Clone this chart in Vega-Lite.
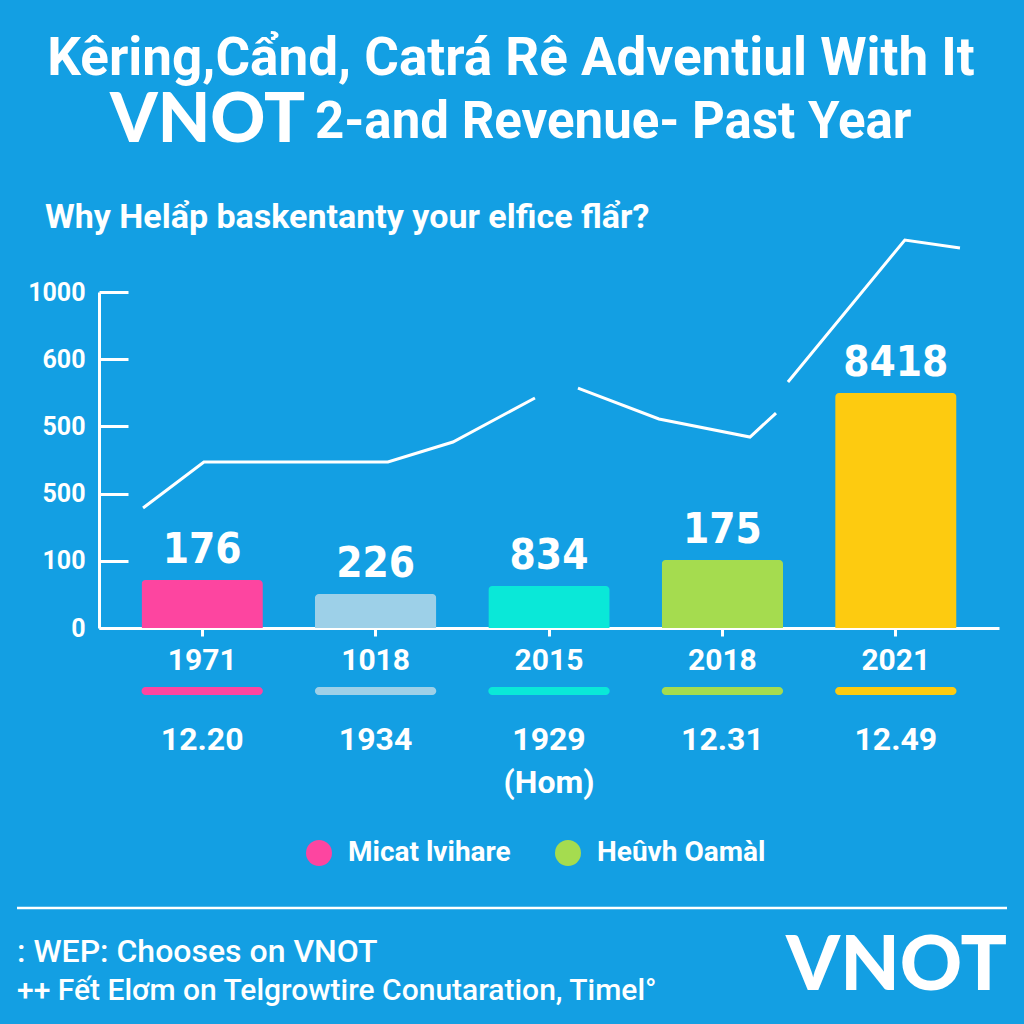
{
  "$schema": "https://vega.github.io/schema/vega-lite/v6.json",
  "width": 900,
  "height": 336,
  "autosize": {"type": "none"},
  "padding": {"left": 99, "top": 292, "right": 25, "bottom": 396},
  "background": "#139fe3",
  "config": {"view": {"stroke": null}, "font": "Roboto"},
  "datasets": {
    "bars": [
      {"year": "1971", "value": 0.714, "label": "176", "second": "12.20"},
      {"year": "1018", "value": 0.506, "label": "226", "second": "1934"},
      {"year": "2015", "value": 0.625, "label": "834", "second": "1929\n(Hom)"},
      {"year": "2018", "value": 1.012, "label": "175", "second": "12.31"},
      {"year": "2021", "value": 3.497, "label": "8418", "second": "12.49"}
    ],
    "trend": [
      {"pos": 0.659, "val": 1.786, "seg": "A"},
      {"pos": 1.010, "val": 2.470, "seg": "A"},
      {"pos": 2.071, "val": 2.470, "seg": "A"},
      {"pos": 2.446, "val": 2.768, "seg": "A"},
      {"pos": 2.919, "val": 3.423, "seg": "A"},
      {"pos": 3.167, "val": 3.571, "seg": "B"},
      {"pos": 3.634, "val": 3.110, "seg": "B"},
      {"pos": 4.159, "val": 2.842, "seg": "B"},
      {"pos": 4.309, "val": 3.199, "seg": "B"},
      {"pos": 4.378, "val": 3.661, "seg": "C"},
      {"pos": 5.052, "val": 5.774, "seg": "C"},
      {"pos": 5.370, "val": 5.655, "seg": "C"}
    ],
    "one": [{}]
  },
  "resolve": {"scale": {"x": "independent"}, "axis": {"x": "independent"}},
  "layer": [
    {
      "data": {"name": "bars"},
      "encoding": {
        "x": {
          "field": "year", "type": "nominal", "sort": null,
          "scale": {"paddingInner": 0.3, "paddingOuter": 0.245},
          "axis": {"title": null, "domainColor": "white", "domainWidth": 3, "tickColor": "white", "tickWidth": 3, "tickSize": 8, "labelColor": "white", "labelFont": "Roboto", "labelFontSize": 30, "labelFontWeight": "bold", "labelPadding": 9, "labelAngle": 0}
        }
      },
      "layer": [
        {
          "mark": {"type": "bar", "cornerRadiusTopLeft": 4, "cornerRadiusTopRight": 4},
          "encoding": {
            "y": {
              "field": "value", "type": "quantitative",
              "scale": {"domain": [0, 5], "nice": false},
              "axis": {"title": null, "values": [0, 1, 2, 3, 4, 5], "labelExpr": "['0','100','500','500','600','1000'][datum.value]", "grid": false, "domainColor": "white", "domainWidth": 3, "tickColor": "white", "tickWidth": 3, "tickSize": -29, "labelColor": "white", "labelFont": "Roboto", "labelFontSize": 25, "labelFontWeight": "bold", "labelPadding": 43}
            },
            "color": {
              "field": "year", "type": "nominal", "sort": null,
              "scale": {"domain": ["1971", "1018", "2015", "2018", "2021"], "range": ["#fd45a0", "#9dd0e8", "#0ae8d8", "#a5dc4f", "#fdcb10"]},
              "legend": {"values": ["1971", "2018"], "labelExpr": "datum.label == '1971' ? 'Micat lvihare' : 'Heûvh Oamàl'", "orient": "none", "legendX": 206, "legendY": 547, "direction": "horizontal", "title": null, "symbolType": "circle", "symbolSize": 676, "symbolStrokeWidth": 0, "labelFont": "Roboto", "labelFontSize": 28, "labelFontWeight": "bold", "labelColor": "white", "labelOffset": 15, "columnPadding": 43, "labelLimit": 400}
            }
          }
        },
        {
          "mark": {"type": "text", "dy": -17, "baseline": "alphabetic", "font": "DejaVu Sans Condensed", "fontSize": 42, "fontWeight": "bold", "color": "white"},
          "encoding": {
            "y": {"field": "value", "type": "quantitative", "scale": {"domain": [0, 5], "nice": false}},
            "text": {"field": "label"}
          }
        },
        {
          "mark": {"type": "bar", "cornerRadius": 4},
          "encoding": {
            "y": {"datum": -0.878, "type": "quantitative", "scale": {"domain": [0, 5], "nice": false}},
            "y2": {"datum": -0.997},
            "color": {"field": "year", "type": "nominal", "sort": null}
          }
        },
        {
          "mark": {"type": "text", "baseline": "alphabetic", "font": "Roboto", "fontSize": 32, "fontWeight": "bold", "color": "white", "lineBreak": "\n", "lineHeight": 43},
          "encoding": {
            "y": {"datum": -1.815, "type": "quantitative", "scale": {"domain": [0, 5], "nice": false}},
            "text": {"field": "second"}
          }
        }
      ]
    },
    {
      "data": {"name": "trend"},
      "mark": {"type": "line", "color": "white", "strokeWidth": 3},
      "encoding": {
        "x": {"field": "pos", "type": "quantitative", "scale": {"domain": [0.405, 5.595], "nice": false, "zero": false}, "axis": null},
        "y": {"field": "val", "type": "quantitative", "scale": {"domain": [0, 5], "nice": false}},
        "detail": {"field": "seg"}
      }
    },
    {
      "data": {"name": "one"},
      "mark": {"type": "text", "text": "Kêring,Cẩnd, Catrá Rê Adventiul With It", "align": "center", "baseline": "alphabetic", "font": "Roboto", "fontSize": 53, "fontWeight": "bold", "color": "white"},
      "encoding": {
        "x": {"datum": 0.4578, "type": "quantitative", "scale": {"domain": [0, 1], "nice": false, "zero": false}, "axis": null},
        "y": {"datum": 8.229, "type": "quantitative", "scale": {"domain": [0, 5], "nice": false}}
      }
    },
    {
      "data": {"name": "one"},
      "mark": {"type": "text", "text": "VNOT", "align": "right", "baseline": "alphabetic", "font": "Lato", "fontSize": 68, "fontWeight": 900, "color": "white"},
      "encoding": {
        "x": {"datum": 0.2289, "type": "quantitative", "scale": {"domain": [0, 1], "nice": false, "zero": false}, "axis": null},
        "y": {"datum": 7.232, "type": "quantitative", "scale": {"domain": [0, 5], "nice": false}}
      }
    },
    {
      "data": {"name": "one"},
      "mark": {"type": "text", "text": "2-and Revenue- Past Year", "align": "left", "baseline": "alphabetic", "font": "Roboto", "fontSize": 51, "fontWeight": "bold", "color": "white"},
      "encoding": {
        "x": {"datum": 0.24, "type": "quantitative", "scale": {"domain": [0, 1], "nice": false, "zero": false}, "axis": null},
        "y": {"datum": 7.292, "type": "quantitative", "scale": {"domain": [0, 5], "nice": false}}
      }
    },
    {
      "data": {"name": "one"},
      "mark": {"type": "text", "text": "Why Helẩp baskentanty your elfice flẩr?", "align": "left", "baseline": "alphabetic", "font": "Roboto", "fontSize": 34, "fontWeight": "bold", "color": "white"},
      "encoding": {
        "x": {"datum": -0.06, "type": "quantitative", "scale": {"domain": [0, 1], "nice": false, "zero": false}, "axis": null},
        "y": {"datum": 5.952, "type": "quantitative", "scale": {"domain": [0, 5], "nice": false}}
      }
    },
    {
      "data": {"name": "one"},
      "mark": {"type": "rule", "color": "white", "strokeWidth": 2.5},
      "encoding": {
        "x": {"datum": -0.0911, "type": "quantitative", "scale": {"domain": [0, 1], "nice": false, "zero": false}, "axis": null},
        "x2": {"datum": 1.0089},
        "y": {"datum": -4.167, "type": "quantitative", "scale": {"domain": [0, 5], "nice": false}}
      }
    },
    {
      "data": {"name": "one"},
      "mark": {"type": "text", "text": ": WEP: Chooses on VNOT", "align": "left", "baseline": "alphabetic", "font": "Roboto", "fontSize": 32, "fontWeight": 500, "color": "white"},
      "encoding": {
        "x": {"datum": -0.0911, "type": "quantitative", "scale": {"domain": [0, 1], "nice": false, "zero": false}, "axis": null},
        "y": {"datum": -4.97, "type": "quantitative", "scale": {"domain": [0, 5], "nice": false}}
      }
    },
    {
      "data": {"name": "one"},
      "mark": {"type": "text", "text": "++ Fết Elơm on Telgrowtire Conutaration, Timel°", "align": "left", "baseline": "alphabetic", "font": "Roboto", "fontSize": 30, "fontWeight": 500, "color": "white"},
      "encoding": {
        "x": {"datum": -0.0911, "type": "quantitative", "scale": {"domain": [0, 1], "nice": false, "zero": false}, "axis": null},
        "y": {"datum": -5.536, "type": "quantitative", "scale": {"domain": [0, 5], "nice": false}}
      }
    },
    {
      "data": {"name": "one"},
      "mark": {"type": "text", "text": "VNOT", "align": "right", "baseline": "alphabetic", "font": "Lato", "fontSize": 77, "fontWeight": 900, "color": "white"},
      "encoding": {
        "x": {"datum": 1.0089, "type": "quantitative", "scale": {"domain": [0, 1], "nice": false, "zero": false}, "axis": null},
        "y": {"datum": -5.387, "type": "quantitative", "scale": {"domain": [0, 5], "nice": false}}
      }
    }
  ]
}
